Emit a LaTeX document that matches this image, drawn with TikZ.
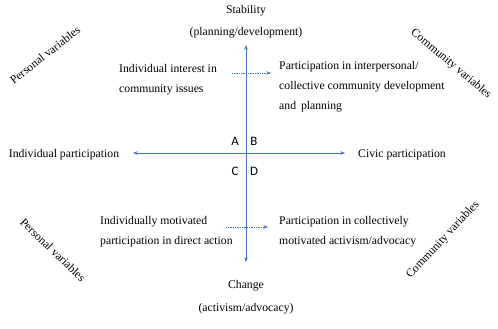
\documentclass[tikz,border=0pt]{standalone}
\usepackage{fontspec}
\setmainfont{Liberation Serif}
\newfontfamily\serifface{Liberation Serif}
\newfontfamily\quadface{Carlito}
\usetikzlibrary{positioning,arrows.meta}
\definecolor{axisblue}{RGB}{68,114,196}
\tikzset{axis/.style={draw=axisblue, line width=0.6pt, {Stealth[length=4pt,width=3pt]}-{Stealth[length=4pt,width=3pt]}},
         link/.style={draw=axisblue, line width=0.5pt, densely dotted, -{Stealth[length=4pt,width=3pt]}},
         label/.style={font=\serifface\fontsize{10}{17}\selectfont, inner sep=0pt},
         quad/.style={font=\quadface\fontsize{11}{13}\selectfont, inner sep=0pt},
         block/.style={label, align=left, anchor=north west}}

\begin{document}
\begin{tikzpicture}[x=0.03cm,y=-0.03cm]
        \useasboundingbox (0,0) rectangle (498,328);
        % axes
        \coordinate (top) at (246,45);
        \coordinate (bottom) at (246,262);
        \coordinate (left) at (133,153);
        \coordinate (right) at (345,153);
        \draw[axis] (bottom) -- (top);
        \draw[axis] (left) -- (right);
        % axis ends
        \node[label] (stab) at (246,11) {Stability};
        \node[label] (stabsub) at (246,33) {(planning/development)};
        \node[label] (chg) at (246,286) {Change};
        \node[label] (chgsub) at (246,309) {(activism/advocacy)};
        \node[label] (indiv) at (64,155) {Individual participation};
        \node[label] (civic) at (402,155) {Civic participation};
        % quadrants
        \node[quad] (qa) at (235,141) {A};
        \node[quad] (qb) at (254,141) {B};
        \node[quad] (qc) at (235,171) {C};
        \node[quad] (qd) at (254,171) {D};
        % top half
        \node[block] (interest) at (119,64) {Individual interest in\\community issues};
        \node[block] (collective) at (279,61) {Participation in interpersonal/\\collective community development\\and\, planning};
        \coordinate (tstart) at (232,73);
        \coordinate (tend) at (271,73);
        \draw[link] (tstart) -- (tend);
        % bottom half
        \node[block] (motivated) at (100,216) {Individually motivated\\participation in direct action};
        \node[block] (activism) at (279,216) {Participation in collectively\\motivated activism/advocacy};
        \coordinate (bstart) at (226,227);
        \coordinate (bend) at (268,227);
        \draw[link] (bstart) -- (bend);
        % variables
        \node[label, rotate=38] (pv1) at (45,55) {Personal variables};
        \node[label, rotate=-40] (cv1) at (451,64) {Community variables};
        \node[label, rotate=-44] (pv2) at (53,250) {Personal variables};
        \node[label, rotate=47] (cv2) at (443,240) {Community variables};
\end{tikzpicture}
\end{document}
